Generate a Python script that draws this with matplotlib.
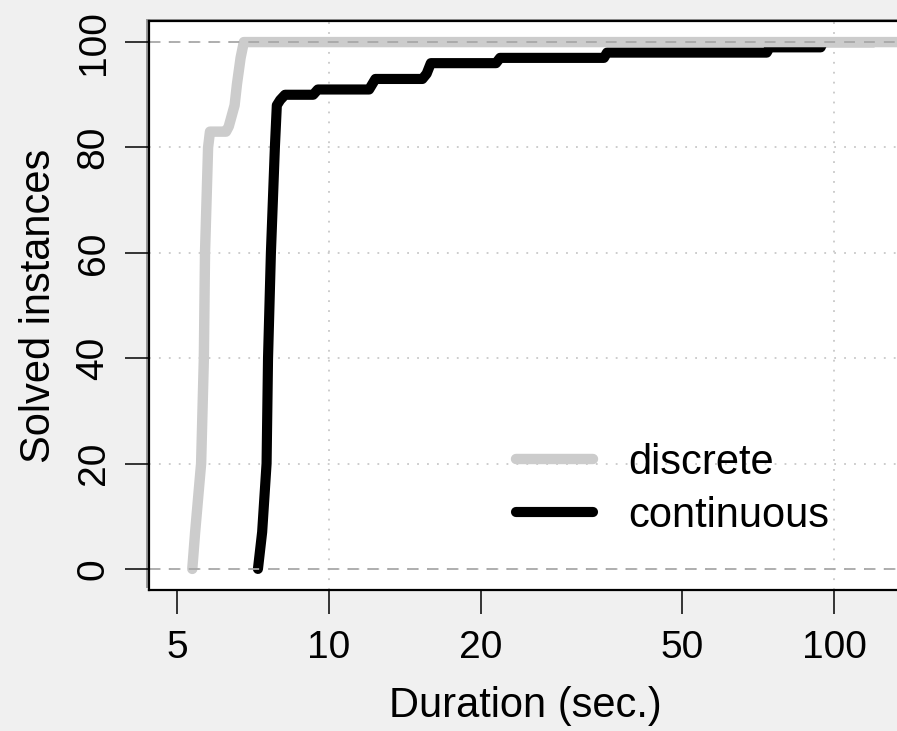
import matplotlib
matplotlib.use('Agg')
import matplotlib.pyplot as plt
from matplotlib.patches import Rectangle
from matplotlib.ticker import FixedLocator, FixedFormatter, NullLocator

# Cumulative solved instances against solve time (seconds)
discrete_time = [5.36, 5.43, 5.58, 5.65, 5.68, 5.76, 5.81, 6.25, 6.33, 6.5, 6.57, 6.68, 6.78, 150]
discrete_solved = [0, 7, 20, 40, 60, 80, 83, 83, 84, 88, 92, 97, 100, 100]

continuous_time = [7.23, 7.37, 7.52, 7.57, 7.67, 7.81, 7.88, 8.0, 8.18, 9.3, 9.5,
                   12.0, 12.35, 15.3, 15.6, 15.9, 21.4, 21.8, 35.0, 35.5,
                   73.5, 74.5, 94.0, 95.0, 120]
continuous_solved = [0, 7, 20, 40, 60, 80, 88, 89, 90, 90, 91,
                     91, 93, 93, 94, 96, 96, 97, 97, 98,
                     98, 99, 99, 100, 100]

x_ticks = [5, 10, 20, 50, 100]
y_ticks = [0, 20, 40, 60, 80, 100]

plt.rcParams['font.family'] = ['Liberation Sans', 'DejaVu Sans']

fig = plt.figure(figsize=(8.97, 7.31), dpi=100, facecolor='#f0f0f0')
W, H = 897.0, 731.0
left, right, top, bottom = 149, 902, 21, 590
pos = [left / W, (H - bottom) / H, (right - left) / W, (bottom - top) / H]

# drop shadow behind the plotting box
fig.patches.append(Rectangle(((left - 3) / W, (H - bottom + 2) / H), pos[2], pos[3],
                             transform=fig.transFigure, facecolor='#999999',
                             edgecolor='none', zorder=0))

ax = fig.add_axes(pos)
ax.set_zorder(1)
ax.set_facecolor('white')
ax.set_xscale('log')
ax.set_xlim(4.40, 136.2)
ax.set_ylim(-4, 104)

# dotted grid
for y in y_ticks:
    ax.axhline(y, color='#c8c8c8', lw=1.3, ls=(0, (1, 4.5)), zorder=1)
for x in [10, 100]:
    ax.axvline(x, color='#c8c8c8', lw=1.3, ls=(0, (1, 4.5)), zorder=1)

ax.plot(continuous_time, continuous_solved, color='black', lw=7.3,
        solid_capstyle='round', solid_joinstyle='round', label='continuous', zorder=3)
ax.plot(discrete_time, discrete_solved, color='#cccccc', lw=7.5,
        solid_capstyle='round', solid_joinstyle='round', label='discrete', zorder=4)

for y in [0, 100]:
    ax.axhline(y, color='#a8a8a8', lw=1.3, ls=(0, (6, 5)), zorder=5)

ax.xaxis.set_major_locator(FixedLocator(x_ticks))
ax.xaxis.set_major_formatter(FixedFormatter([str(t) for t in x_ticks]))
ax.xaxis.set_minor_locator(NullLocator())
ax.set_yticks(y_ticks)
ax.tick_params(axis='both', length=17, width=1.1, labelsize=28, color='black')
ax.tick_params(axis='x', pad=12)
ax.tick_params(axis='y', pad=10)
plt.setp(ax.get_yticklabels(), rotation=90, va='center')

for s in ax.spines.values():
    s.set_linewidth(1.6)
    s.set_zorder(6)

ax.set_xlabel('Duration (sec.)', fontsize=30, labelpad=14)
ax.set_ylabel('Solved instances', fontsize=30, labelpad=12)

handles, labels = ax.get_legend_handles_labels()
ax.legend(handles[::-1], labels[::-1], loc='upper left', bbox_to_anchor=(0.487, 0.259),
          frameon=False, fontsize=30, handlelength=1.85, handletextpad=0.85,
          labelspacing=0.32, borderpad=0, borderaxespad=0)

fig.savefig('out.png', dpi=100, facecolor=fig.get_facecolor())
